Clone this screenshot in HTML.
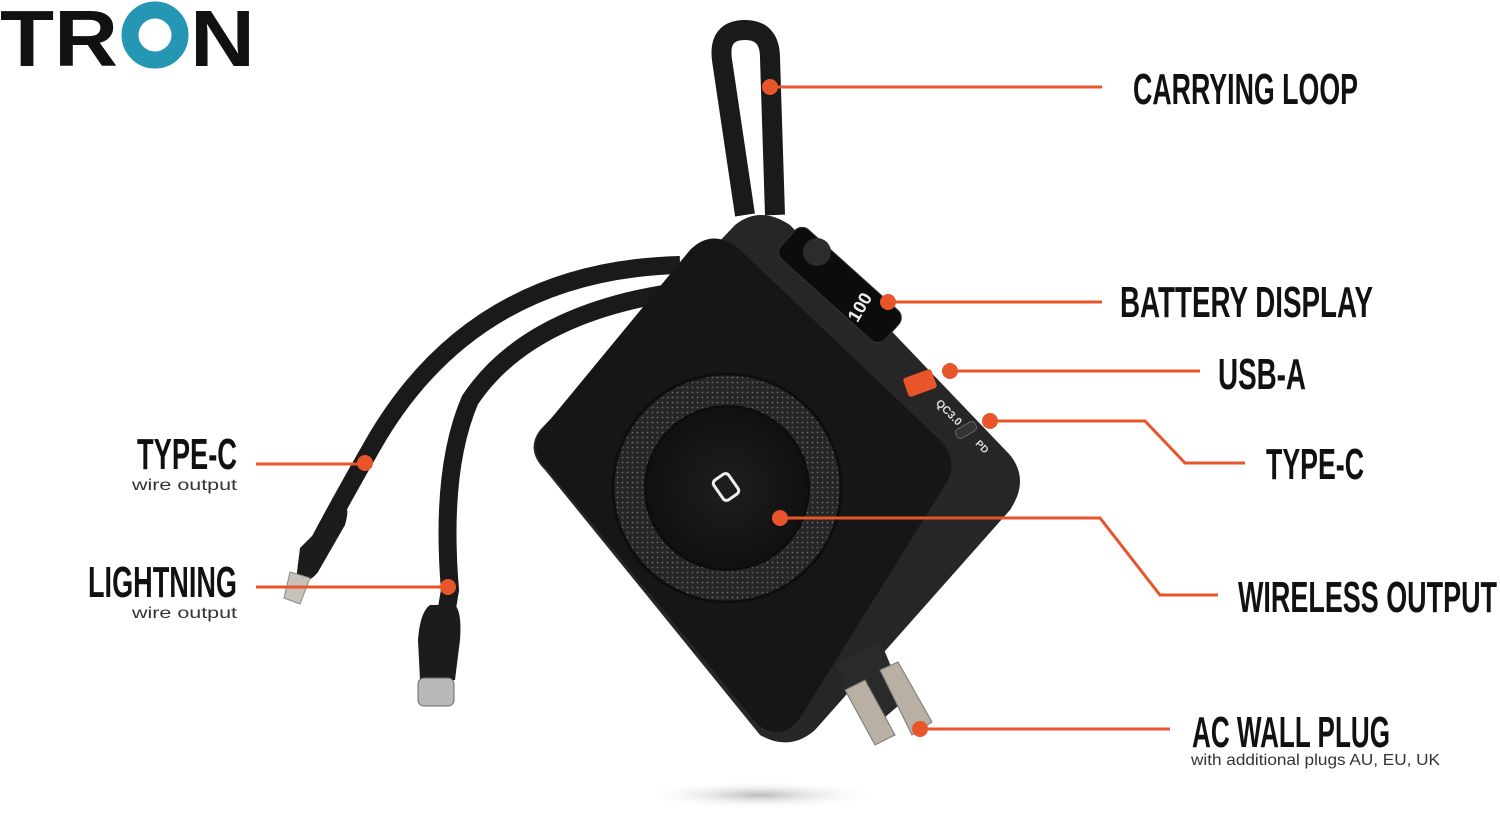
<!DOCTYPE html>
<html><head><meta charset="utf-8"><style>
html,body{margin:0;padding:0;background:#fff;width:1500px;height:819px;overflow:hidden}
svg{display:block}
.h{font-family:"Liberation Sans Narrow","Liberation Sans",sans-serif;font-weight:bold;fill:#111}
.s{font-family:"Liberation Sans",sans-serif;fill:#333;font-size:16px}
</style></head><body>
<svg width="1500" height="819" viewBox="0 0 1500 819" xmlns="http://www.w3.org/2000/svg">
<defs>
<radialGradient id="sh" cx="0.5" cy="0.5" r="0.5"><stop offset="0" stop-color="#bbb"/><stop offset="1" stop-color="#fff" stop-opacity="0"/></radialGradient>
<radialGradient id="disc" cx="0.5" cy="0.5" r="0.5"><stop offset="0" stop-color="#1e1e1e"/><stop offset="1" stop-color="#101010"/></radialGradient>
<pattern id="dots" width="5" height="5" patternUnits="userSpaceOnUse"><rect width="5" height="5" fill="#262626"/><circle cx="2.5" cy="2.5" r="0.9" fill="#6a6a6a"/></pattern>
</defs>
<!-- logo -->
<text x="0" y="66" font-family="Liberation Sans,sans-serif" font-weight="bold" font-size="80" fill="#111" textLength="118" lengthAdjust="spacingAndGlyphs">TR</text>
<circle cx="155" cy="35" r="25" fill="none" stroke="#2596b3" stroke-width="17"/>
<text x="190" y="66" font-family="Liberation Sans,sans-serif" font-weight="bold" font-size="80" fill="#111" textLength="65" lengthAdjust="spacingAndGlyphs">N</text>
<!-- shadow -->
<ellipse cx="760" cy="795" rx="120" ry="14" fill="url(#sh)"/>
<!-- loop -->
<path d="M745 215 L722 60 Q718 30 745 30 Q770 30 770 58 L775 215" fill="none" stroke="#1a1a1a" stroke-width="20" stroke-linejoin="round"/>
<!-- cables -->
<path d="M680 265 Q470 270 370 450 Q330 520 310 560" fill="none" stroke="#1a1a1a" stroke-width="18"/>
<path d="M690 290 Q530 310 470 400 Q440 470 450 590 L445 620" fill="none" stroke="#1a1a1a" stroke-width="18"/>
<path d="M300 548 L338 510 Q352 500 345 525 L318 572 Q308 585 296 580 Z" fill="#1c1c1c"/>
<path d="M290 572 L310 578 L300 604 L284 598 Z" fill="#c7c2b8" stroke="#888"/>
<path d="M430 605 L455 605 Q462 612 460 640 L455 680 L420 680 L418 640 Q420 612 430 605 Z" fill="#1c1c1c"/>
<rect x="418" y="678" width="36" height="28" rx="6" fill="#b9b9b9" stroke="#666"/>
<!-- device body -->
<path d="M540 430 L735 225 Q760 205 790 225 L1010 455 Q1030 480 1010 510 L815 730 Q790 752 760 735 L545 470 Q525 450 540 430 Z" fill="#262626"/>
<path d="M540 432 L690 250 Q712 228 738 248 L940 440 Q960 462 945 485 L800 718 Q782 742 758 725 L548 470 Q528 452 540 432 Z" fill="#161616"/>
<!-- display -->
<rect x="770" y="265" width="140" height="40" rx="10" transform="rotate(42 840 285)" fill="#0c0c0c" stroke="#333"/>
<circle cx="817" cy="252" r="14" fill="#2c2c2c"/>
<text x="843" y="312" font-family="Liberation Sans,sans-serif" font-weight="bold" font-size="18" fill="#eee" transform="rotate(-60 860 305)">100</text>
<rect x="905" y="373" width="30" height="20" rx="3" fill="#e8552a" transform="rotate(-20 920 383)"/>
<text x="935" y="412" font-family="Liberation Sans,sans-serif" font-weight="bold" font-size="11" fill="#ddd" transform="rotate(45 945 408)">QC3.0</text>
<rect x="955" y="425" width="22" height="10" rx="4" fill="#333" stroke="#666" transform="rotate(-30 966 430)"/>
<text x="975" y="450" font-family="Liberation Sans,sans-serif" font-weight="bold" font-size="10" fill="#ddd" transform="rotate(45 982 447)">PD</text>
<!-- wireless -->
<circle cx="727" cy="488" r="114" fill="url(#dots)"/>
<circle cx="727" cy="488" r="114" fill="none" stroke="#0e0e0e" stroke-width="3"/>
<circle cx="727" cy="488" r="82" fill="url(#disc)" stroke="#0c0c0c" stroke-width="2"/>
<rect x="717" y="475" width="18" height="24" rx="4" fill="none" stroke="#eee" stroke-width="3" transform="rotate(-35 726 487)"/>
<!-- plug -->
<path d="M835 665 L880 640 L905 700 L870 730 Z" fill="#2a2a2a"/>
<path d="M845 690 L875 745 L895 735 L865 680 Z" fill="#b8b0a2" stroke="#777"/>
<path d="M880 670 L912 735 L932 722 L898 662 Z" fill="#b8b0a2" stroke="#777"/>
<!-- connectors -->
<g stroke="#e8552a" stroke-width="3" fill="none">
<path d="M770 87 H1102"/><path d="M888 302 H1102"/><path d="M950 371 H1200"/>
<path d="M990 421 H1145 L1185 463 H1245"/><path d="M780 518 H1100 L1160 595 H1218"/>
<path d="M920 729 H1170"/><path d="M256 464 H365"/><path d="M256 587 H448"/>
</g>
<g fill="#e8552a">
<circle cx="770" cy="87" r="8"/><circle cx="888" cy="302" r="8"/><circle cx="950" cy="371" r="8"/>
<circle cx="990" cy="421" r="8"/><circle cx="780" cy="518" r="8"/><circle cx="920" cy="729" r="8"/>
<circle cx="365" cy="463" r="8"/><circle cx="448" cy="587" r="8"/>
</g>
<!-- labels -->
<text class="h" x="1133" y="104" font-size="44" textLength="225" lengthAdjust="spacingAndGlyphs">CARRYING LOOP</text>
<text class="h" x="1120" y="317" font-size="44" textLength="253" lengthAdjust="spacingAndGlyphs">BATTERY DISPLAY</text>
<text class="h" x="1218" y="389" font-size="44" textLength="88" lengthAdjust="spacingAndGlyphs">USB-A</text>
<text class="h" x="1266" y="479" font-size="44" textLength="98" lengthAdjust="spacingAndGlyphs">TYPE-C</text>
<text class="h" x="1238" y="612" font-size="44" textLength="259" lengthAdjust="spacingAndGlyphs">WIRELESS OUTPUT</text>
<text class="h" x="1192" y="747" font-size="44" textLength="198" lengthAdjust="spacingAndGlyphs">AC WALL PLUG</text>
<text class="s" x="1191" y="765" font-size="14" textLength="249" lengthAdjust="spacingAndGlyphs">with additional plugs AU, EU, UK</text>
<text class="h" x="137" y="469" font-size="44" textLength="100" lengthAdjust="spacingAndGlyphs">TYPE-C</text>
<text class="s" x="132" y="490" textLength="105" lengthAdjust="spacingAndGlyphs">wire output</text>
<text class="h" x="88" y="597" font-size="44" textLength="149" lengthAdjust="spacingAndGlyphs">LIGHTNING</text>
<text class="s" x="132" y="618" textLength="105" lengthAdjust="spacingAndGlyphs">wire output</text>
</svg>
</body></html>
